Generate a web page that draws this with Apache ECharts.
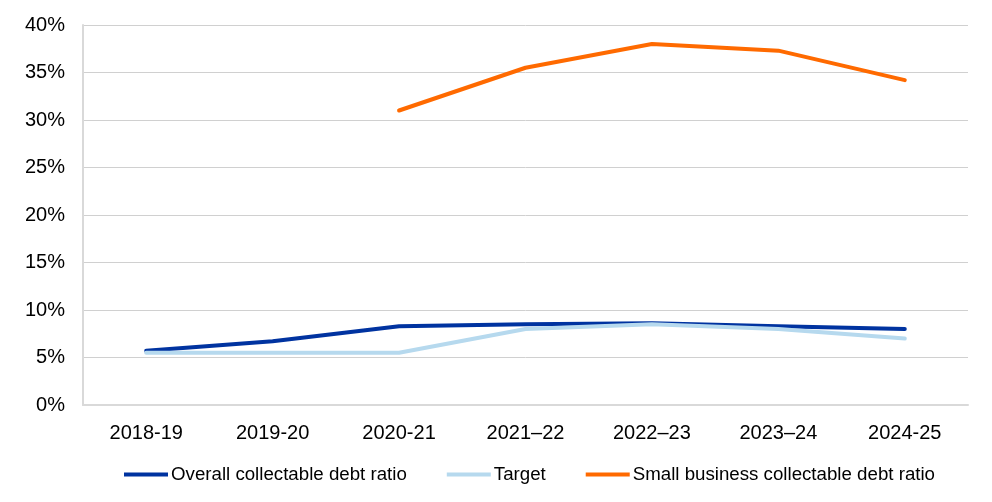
<!DOCTYPE html>
<html>
<head>
<meta charset="utf-8">
<script src="https://cdn.jsdelivr.net/npm/echarts@6/dist/echarts.min.js"></script>
<style>
  html, body { margin: 0; padding: 0; background: #fff; }
  #chart { width: 992px; height: 502px; }
</style>
</head>
<body>
<div id="chart"></div>
<script>
// 财年分类
const years = ['2018-19', '2019-20', '2020-21', '2021\u201322', '2022\u201323', '2023\u201324', '2024-25']
// 各系列数值（%）
const overallRatio = [5.7, 6.7, 8.3, 8.5, 8.6, 8.3, 8.0]
const targetRatio = [5.5, 5.5, 5.5, 8.0, 8.5, 8.0, 7.0]
const smallBizRatio = [null, null, 31.0, 35.5, 38.0, 37.3, 34.2]
// y 轴刻度
const yMin = 0
const yMax = 40
const yStep = 5

const chart = echarts.init(document.getElementById('chart'))
const font = 'Liberation Sans, Arial, sans-serif'

function lineSeries(name, data, color) {
  return {
    name,
    type: 'line',
    data,
    symbol: 'none',
    lineStyle: { color, width: 4, cap: 'round', join: 'round' },
    itemStyle: { color },
    emphasis: { disabled: true }
  }
}

chart.setOption({
  animation: false,
  textStyle: { fontFamily: font },
  grid: { left: 83, right: 24, top: 25, bottom: 97 },
  legend: {
    bottom: 13,
    left: 119,
    icon: 'rect',
    itemWidth: 44,
    itemHeight: 4,
    itemGap: 40,
    textStyle: { fontSize: 18.7, color: '#000', fontFamily: font, padding: [0, 0, 0, -2] },
    data: ['Overall collectable debt ratio', 'Target', 'Small business collectable debt ratio']
  },
  xAxis: {
    type: 'category',
    data: years,
    boundaryGap: true,
    axisLine: { lineStyle: { color: '#d9d9d9', width: 2 } },
    axisTick: { show: false },
    axisLabel: { color: '#000', fontSize: 20, margin: 18, fontFamily: font }
  },
  yAxis: {
    type: 'value',
    min: yMin,
    max: yMax,
    interval: yStep,
    axisLine: { show: true, lineStyle: { color: '#d9d9d9', width: 2 } },
    axisTick: { show: false },
    splitLine: { lineStyle: { color: '#d0d0d0', width: 1 } },
    axisLabel: { color: '#000', fontSize: 20, margin: 18, formatter: '{value}%', fontFamily: font }
  },
  series: [
    lineSeries('Overall collectable debt ratio', overallRatio, '#0033A0'),
    lineSeries('Target', targetRatio, '#B6D9EE'),
    lineSeries('Small business collectable debt ratio', smallBizRatio, '#FF6A00')
  ]
})
</script>
</body>
</html>
